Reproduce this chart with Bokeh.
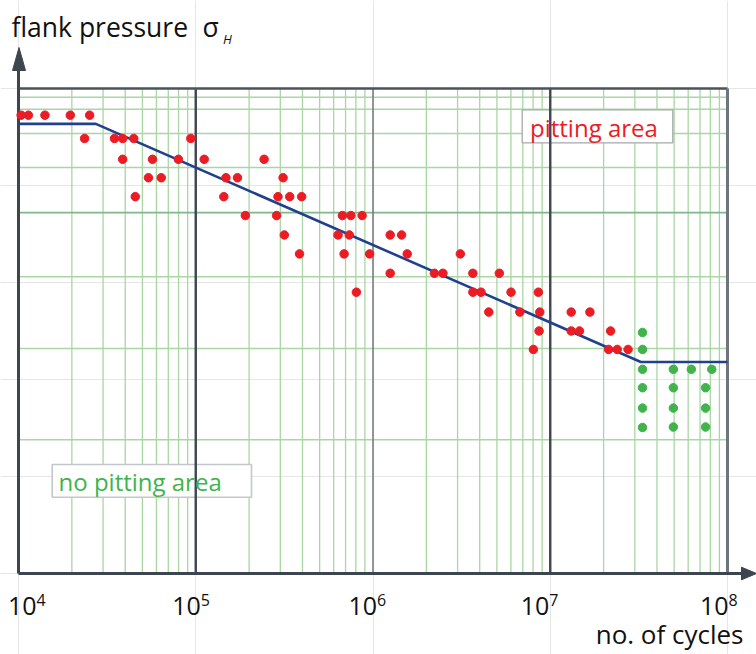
from bokeh.plotting import figure
from bokeh.models import Range1d
from bokeh.core.properties import value
from bokeh.embed import file_html
from bokeh.resources import INLINE

# ---------------- data ----------------
# S-N test results (red: failure / pitting, green: run-outs / no pitting)
red_cycles = [
    1.035e4, 1.137e4, 1.41e4, 1.96e4, 2.52e4,
    2.36e4, 3.48e4, 3.87e4, 4.47e4, 9.38e4,
    3.87e4, 5.70e4, 7.98e4, 1.116e5, 2.43e5,
    5.41e4, 6.39e4, 1.48e5, 1.72e5, 3.11e5,
    4.56e4, 1.44e5, 2.91e5, 3.39e5, 3.96e5,
    1.905e5, 2.86e5, 6.72e5, 7.50e5, 8.68e5,
    3.16e5, 6.35e5, 7.35e5, 1.25e6, 1.45e6,
    3.85e5, 6.87e5, 9.57e5, 1.56e6, 3.11e6,
    1.25e6, 2.22e6, 2.48e6, 3.66e6, 5.16e6,
    8.06e5, 3.66e6, 4.07e6, 6.01e6, 8.57e6,
    4.50e6, 6.74e6, 8.73e6, 1.313e7, 1.674e7,
    8.65e6, 1.313e7, 1.462e7, 2.19e7,
    8.03e6, 2.135e7, 2.387e7, 2.748e7,
]
red_stress = [
    94.5, 94.5, 94.5, 94.5, 94.5,
    89.7, 89.7, 89.7, 89.7, 89.7,
    85.4, 85.4, 85.4, 85.4, 85.4,
    81.6, 81.6, 81.6, 81.6, 81.6,
    77.7, 77.7, 77.7, 77.7, 77.7,
    73.8, 73.8, 73.8, 73.8, 73.8,
    69.8, 69.8, 69.8, 69.8, 69.8,
    65.9, 65.9, 65.9, 65.9, 65.9,
    61.9, 61.9, 61.9, 61.9, 61.9,
    58.0, 58.0, 58.0, 58.0, 58.0,
    53.9, 53.9, 53.9, 53.9, 53.9,
    50.0, 50.0, 50.0, 50.0,
    46.2, 46.2, 46.2, 46.2,
]
green_cycles = [
    3.316e7, 3.316e7, 3.316e7, 3.316e7, 3.316e7, 3.316e7,
    4.95e7, 4.95e7, 4.95e7, 4.95e7,
    6.25e7, 8.15e7,
    7.52e7, 7.52e7, 7.52e7,
]
green_stress = [
    49.7, 46.2, 42.1, 38.3, 34.1, 30.1,
    42.1, 38.3, 34.1, 30.2,
    42.1, 42.1,
    38.3, 34.1, 30.2,
]
# S-N curve (endurance limits and sloped part)
curve_cycles = [1e4, 2.73e4, 3.244e7, 1e8]
curve_stress = [92.7, 92.7, 43.6, 43.6]

# axes / grid
decade_ticks = [1e4, 1e5, 1e6, 1e7, 1e8]
tick_base = ["10", "10", "10", "10", "10"]
tick_exp = ["4", "5", "6", "7", "8"]
hgrid_stress = [98.2, 95.7, 90.7, 83.7, 61.2, 46.4, 27.6]
hgrid_major_stress = [74.4]
STRESS_MIN, STRESS_MAX = 0.0, 100.0
N_MIN, N_MAX = 1e4, 1e8

title_text = "flank pressure"
title_sigma = "σ"
title_sub = "H"
xlabel_text = "no. of cycles"
pit_text = "pitting area"
nopit_text = "no pitting area"

# ---------------- layout helpers ----------------
W, H = 756, 654
PX_DEC = 177.25          # pixels per decade
X0_PX = 18               # canvas x of 10^4
Y0_PX = 573              # canvas y of stress 0
PX_UNIT = 4.85           # pixels per stress unit


def xd(px):
    return 10 ** (4 + (px - X0_PX) / PX_DEC)


def yd(py):
    return (Y0_PX - py) / PX_UNIT


def ytxt(py, size):
    # baseline correction for rendered text
    return yd(py - 0.3 * size)


FONT = "Open Sans"
RED = "#ec1c24"
GREEN = "#40b44b"
GRID = "#a9d6a3"
DARK = "#3d464e"
INK = "#111111"

p = figure(width=W, height=H, x_axis_type="log",
           x_range=Range1d(xd(0), xd(W)), y_range=Range1d(yd(H), yd(0)),
           x_axis_location=None, y_axis_location=None,
           output_backend="svg", toolbar_location=None,
           min_border=0, min_border_left=0, min_border_right=0,
           min_border_top=0, min_border_bottom=0)
p.outline_line_color = None
p.background_fill_color = "white"
p.border_fill_color = "white"

# minor vertical grid lines (2..9 x 10^k)
minor_x = [k * d for d in decade_ticks[:-1] for k in range(2, 10)]
p.segment(x0=minor_x, y0=[STRESS_MIN] * len(minor_x), x1=minor_x,
          y1=[STRESS_MAX] * len(minor_x), line_color=GRID, line_width=1.3)
# horizontal grid lines
p.segment(x0=[N_MIN] * len(hgrid_stress), y0=hgrid_stress,
          x1=[N_MAX] * len(hgrid_stress), y1=hgrid_stress,
          line_color=GRID, line_width=1.5)
p.segment(x0=[N_MIN], y0=hgrid_major_stress, x1=[N_MAX], y1=hgrid_major_stress,
          line_color="#7db98a", line_width=1.6)

# text boxes
p.quad(left=[xd(521.7)], right=[xd(672.3)], top=[yd(109.3)], bottom=[yd(142.3)],
       fill_color="white", line_color="#a4a8ab", line_width=1.3)
p.quad(left=[xd(51.7)], right=[xd(251)], top=[yd(464)], bottom=[yd(496.7)],
       fill_color="white", line_color="#c4c7c9", line_width=1.6)

# decade lines
p.segment(x0=[1e5, 1e7], y0=[STRESS_MIN] * 2, x1=[1e5, 1e7], y1=[STRESS_MAX] * 2,
          line_color=DARK, line_width=2.4)
p.segment(x0=[1e6], y0=[STRESS_MIN], x1=[1e6], y1=[STRESS_MAX],
          line_color="#6f767c", line_width=1.5)
# frame: top and right
p.line(x=[N_MIN, N_MAX], y=[STRESS_MAX, STRESS_MAX], line_color="#4a535a", line_width=2.6)
p.line(x=[N_MAX, N_MAX], y=[STRESS_MIN, STRESS_MAX], line_color="#6e757b", line_width=3)

# axes with arrows
p.line(x=[N_MIN, N_MIN], y=[STRESS_MIN, yd(70)], line_color=DARK, line_width=3)
p.line(x=[N_MIN, xd(742)], y=[STRESS_MIN, STRESS_MIN], line_color=DARK, line_width=3)
p.patch(x=[xd(18.5), xd(12), xd(25)], y=[yd(47), yd(70), yd(70)],
        fill_color=DARK, line_color=DARK, line_width=1)
p.patch(x=[xd(756), xd(741), xd(741)], y=[STRESS_MIN, yd(566.7), yd(579.3)],
        fill_color=DARK, line_color=DARK, line_width=1)

# S-N curve
p.line(x=curve_cycles, y=curve_stress, line_color="#22418c", line_width=2.6)

# data points
p.scatter(x=red_cycles, y=red_stress, size=8.5, fill_color=RED, line_color=RED)
p.scatter(x=green_cycles, y=green_stress, size=8.5, fill_color=GREEN, line_color=GREEN)

# texts
p.text(x=[xd(529.5)], y=[ytxt(134.3, 24)], text=[pit_text], text_color=RED,
       text_font=value(FONT), text_font_size="24px", text_baseline="alphabetic")
p.text(x=[xd(58)], y=[ytxt(488.3, 24)], text=[nopit_text], text_color=GREEN,
       text_font=value(FONT), text_font_size="24px", text_baseline="alphabetic")
p.text(x=[xd(11)], y=[ytxt(34.3, 26.5)], text=[title_text], text_color=INK,
       text_font=value(FONT), text_font_size="26.5px", text_baseline="alphabetic")
p.text(x=[xd(202)], y=[ytxt(34.3, 26.5)], text=[title_sigma], text_color=INK,
       text_font=value(FONT), text_font_size="26.5px", text_baseline="alphabetic")
p.text(x=[xd(222.5)], y=[ytxt(42, 13)], text=[title_sub], text_color=INK,
       text_font=value(FONT), text_font_size="13px", text_font_style="italic",
       text_baseline="alphabetic")
p.text(x=[xd(743)], y=[ytxt(641, 26)], text=[xlabel_text], text_color=INK,
       text_font=value(FONT), text_font_size="26px", text_align="right",
       text_baseline="alphabetic")

# tick labels 10^k
label_dx = [18, 5, 4, -1, 1]
p.text(x=decade_ticks, y=[ytxt(613, 25)] * 5, text=tick_base, x_offset=label_dx,
       text_color=INK, text_font=value(FONT), text_font_size="25px",
       text_align="right", text_baseline="alphabetic")
p.text(x=decade_ticks, y=[ytxt(604, 16)] * 5, text=tick_exp, x_offset=label_dx,
       text_color=INK, text_font=value(FONT), text_font_size="16px",
       text_align="left", text_baseline="alphabetic")

open("out.html", "w").write(file_html(p, INLINE))
